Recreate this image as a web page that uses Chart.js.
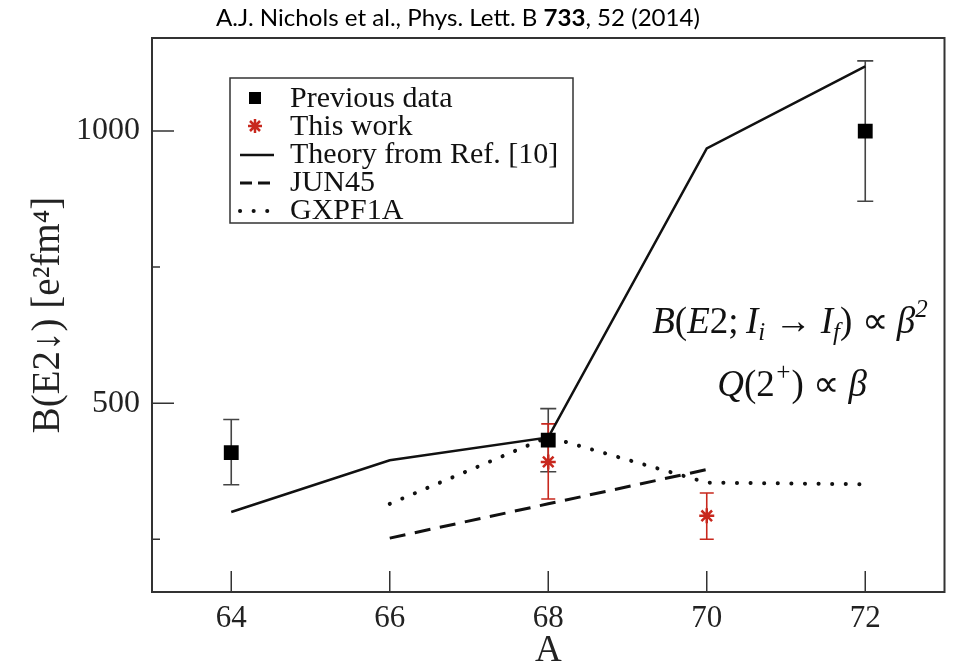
<!DOCTYPE html>
<html>
<head>
<meta charset="utf-8">
<script src="https://cdn.jsdelivr.net/npm/chart.js@4.4.1/dist/chart.umd.min.js"></script>
<style>
  html, body { margin: 0; padding: 0; background: #fff; }
</style>
</head>
<body>
<canvas id="chart" width="955" height="667"></canvas>
<script>
// mass numbers and B(E2) values
const prevA = [64, 68, 72];
const prevB = [409, 432, 1000];
const prevLow = [350, 374, 871];
const prevHigh = [470, 490, 1129];

const thisA = [68, 70];
const thisB = [392, 293];
const thisLow = [324, 250];
const thisHigh = [462, 335];

const theoryA = [64, 66, 68, 70, 72];
const theoryB = [300, 395, 437, 968, 1119];

const jun45A = [66, 68, 70];
const jun45B = [252, 315, 378];

const gxpfA = [66, 68, 70, 72];
const gxpfB = [315, 438, 354, 351];

const xTicks = [64, 66, 68, 70, 72];
const yMajorTicks = [500, 1000];
const yMinorTicks = [250, 750];

const legendLabels = ["Previous data", "This work", "Theory from Ref. [10]", "JUN45", "GXPF1A"];

const RED = "#c8281e";
const INK = "#111";
const SERIF = "'Liberation Serif', 'Times New Roman', serif";

function pts(xs, ys) {
  return xs.map((x, i) => ({ x: x, y: ys[i] }));
}

// error bars, drawn under the markers
const errorBars = {
  id: "errorBars",
  beforeDatasetsDraw(chart) {
    const ctx = chart.ctx;
    const x = chart.scales.x, y = chart.scales.y;
    const sets = [
      { a: prevA, lo: prevLow, hi: prevHigh, color: "#444", cap: 8 },
      { a: thisA, lo: thisLow, hi: thisHigh, color: RED, cap: 7 }
    ];
    ctx.save();
    ctx.lineWidth = 1.6;
    sets.forEach(s => {
      ctx.strokeStyle = s.color;
      s.a.forEach((a, i) => {
        const px = x.getPixelForValue(a);
        const top = y.getPixelForValue(s.hi[i]);
        const bot = y.getPixelForValue(s.lo[i]);
        ctx.beginPath();
        ctx.moveTo(px, top); ctx.lineTo(px, bot);
        ctx.moveTo(px - s.cap, top); ctx.lineTo(px + s.cap, top);
        ctx.moveTo(px - s.cap, bot); ctx.lineTo(px + s.cap, bot);
        ctx.stroke();
      });
    });
    ctx.restore();
  }
};

// frame, inward ticks, legend box, formula and header
const decorations = {
  id: "decorations",
  afterDraw(chart) {
    const ctx = chart.ctx;
    const area = chart.chartArea;
    const x = chart.scales.x, y = chart.scales.y;
    ctx.save();

    // frame
    ctx.strokeStyle = "#333";
    ctx.lineWidth = 2;
    ctx.strokeRect(area.left, area.top, area.right - area.left, area.bottom - area.top);

    // ticks pointing inward
    ctx.lineWidth = 1.5;
    ctx.beginPath();
    xTicks.forEach(v => {
      const px = x.getPixelForValue(v);
      ctx.moveTo(px, area.bottom); ctx.lineTo(px, area.bottom - 21);
    });
    yMajorTicks.forEach(v => {
      const py = y.getPixelForValue(v);
      ctx.moveTo(area.left, py); ctx.lineTo(area.left + 22, py);
    });
    yMinorTicks.forEach(v => {
      const py = y.getPixelForValue(v);
      ctx.moveTo(area.left, py); ctx.lineTo(area.left + 8, py);
    });
    ctx.stroke();

    // legend
    const lx = 230, ly = 78, lw = 343, lh = 145;
    ctx.fillStyle = "#fff";
    ctx.fillRect(lx, ly, lw, lh);
    ctx.strokeStyle = "#333";
    ctx.lineWidth = 1.5;
    ctx.strokeRect(lx, ly, lw, lh);
    const rows = [98, 126, 154, 182, 210];
    ctx.font = "30px " + SERIF;
    ctx.fillStyle = INK;
    ctx.textBaseline = "middle";
    ctx.textAlign = "left";
    legendLabels.forEach((t, i) => ctx.fillText(t, 290, rows[i] + 1));
    // markers
    ctx.fillStyle = "#000";
    ctx.fillRect(249, rows[0] - 6, 12, 12);
    ctx.strokeStyle = RED;
    ctx.lineWidth = 2.5;
    ctx.beginPath();
    ctx.moveTo(248, rows[1]); ctx.lineTo(262, rows[1]);
    ctx.moveTo(255, rows[1] - 7); ctx.lineTo(255, rows[1] + 7);
    ctx.moveTo(250, rows[1] - 5); ctx.lineTo(260, rows[1] + 5);
    ctx.moveTo(260, rows[1] - 5); ctx.lineTo(250, rows[1] + 5);
    ctx.stroke();
    const lineSets = chart.data.datasets.slice(2);
    lineSets.forEach((ds, k) => {
      const ry = rows[2 + k] + 1;
      ctx.strokeStyle = ds.borderColor;
      ctx.lineWidth = ds.borderWidth;
      ctx.lineCap = ds.borderCapStyle || "butt";
      ctx.setLineDash(k === 1 ? [12, 6] : (ds.borderDash || []));
      ctx.beginPath();
      ctx.moveTo(240, ry); ctx.lineTo(274, ry);
      ctx.stroke();
    });
    ctx.setLineDash([]);
    ctx.lineCap = "butt";

    // formula text
    drawRuns(ctx, [
      ["B", "i"], ["(", "n"], ["E", "i"], ["2;", "n"], ["\u2009I", "i"], ["i", "sub"],
      [" \u2192 ", "n"], ["I", "i"], ["f", "sub"], [")", "n"], [" \u221D ", "n"],
      ["\u03B2", "i"], ["2", "sup"]
    ], 790, 333, 37);
    drawRuns(ctx, [
      ["Q", "i"], ["(2", "n"], ["+", "sup"], [")", "n"], [" \u221D ", "n"], ["\u03B2", "i"]
    ], 792, 396, 37);

    // header line
    drawHeader(ctx);
    ctx.restore();
  }
};

function runFont(kind, size) {
  if (kind === "i") return "italic " + size + "px " + SERIF;
  if (kind === "sub" || kind === "sup") return "italic " + Math.round(size * 0.68) + "px " + SERIF;
  return size + "px " + SERIF;
}

function drawRuns(ctx, runs, cx, base, size) {
  let total = 0;
  runs.forEach(r => { ctx.font = runFont(r[1], size); total += ctx.measureText(r[0]).width; });
  let px = cx - total / 2;
  ctx.fillStyle = INK;
  ctx.textAlign = "left";
  ctx.textBaseline = "alphabetic";
  runs.forEach(r => {
    ctx.font = runFont(r[1], size);
    let dy = 0;
    if (r[1] === "sub") dy = size * 0.2;
    if (r[1] === "sup") dy = -size * 0.42;
    ctx.fillText(r[0], px, base + dy);
    px += ctx.measureText(r[0]).width;
  });
}

function drawHeader(ctx) {
  const parts = [
    ["A.J. Nichols et al., Phys. Lett. B ", ""],
    ["733", "bold "],
    [", 52 (2014)", ""]
  ];
  const size = 23;
  const fam = "Lato, 'Open Sans', sans-serif";
  let w = 0;
  parts.forEach(p => { ctx.font = p[1] + size + "px " + fam; w += ctx.measureText(p[0]).width; });
  const target = 484;
  const sx = target / w;
  ctx.save();
  ctx.translate(216, 26);
  ctx.scale(sx, 1);
  ctx.fillStyle = "#000";
  ctx.textAlign = "left";
  ctx.textBaseline = "alphabetic";
  let px = 0;
  parts.forEach(p => {
    ctx.font = p[1] + size + "px " + fam;
    ctx.fillText(p[0], px, 0);
    px += ctx.measureText(p[0]).width;
  });
  ctx.restore();
}

new Chart(document.getElementById("chart"), {
  type: "scatter",
  data: {
    datasets: [
      {
        label: legendLabels[0],
        data: pts(prevA, prevB),
        pointStyle: "rect",
        pointRadius: 10.5,
        backgroundColor: "#000",
        borderWidth: 0,
        showLine: false
      },
      {
        label: legendLabels[1],
        data: pts(thisA, thisB),
        pointStyle: "star",
        pointRadius: 7.5,
        borderColor: RED,
        borderWidth: 2.5,
        showLine: false
      },
      {
        label: legendLabels[2],
        data: pts(theoryA, theoryB),
        showLine: true,
        borderColor: INK,
        borderWidth: 2.5,
        pointRadius: 0
      },
      {
        label: legendLabels[3],
        data: pts(jun45A, jun45B),
        showLine: true,
        borderColor: INK,
        borderWidth: 3,
        borderDash: [16, 9.6],
        pointRadius: 0
      },
      {
        label: legendLabels[4],
        data: pts(gxpfA, gxpfB),
        showLine: true,
        borderColor: INK,
        borderWidth: 4,
        borderDash: [0.1, 13.5],
        borderCapStyle: "round",
        pointRadius: 0
      }
    ]
  },
  options: {
    responsive: false,
    animation: false,
    layout: { padding: { top: 38, right: 10, left: 25, bottom: 0 } },
    plugins: {
      legend: { display: false },
      tooltip: { enabled: false },
      title: { display: false }
    },
    scales: {
      x: {
        type: "linear",
        min: 63,
        max: 73,
        afterBuildTicks: s => { s.ticks = xTicks.map(v => ({ value: v })); },
        afterFit: s => { s.height = 75; },
        grid: { display: false, drawTicks: false },
        border: { display: false },
        ticks: {
          padding: 8,
          color: "#222",
          font: { family: SERIF, size: 31 }
        },
        title: {
          display: true,
          text: "A",
          color: "#222",
          font: { family: SERIF, size: 37, lineHeight: 0.84 },
          padding: { top: 0, bottom: 0 }
        }
      },
      y: {
        type: "linear",
        min: 153,
        max: 1171,
        afterBuildTicks: s => { s.ticks = yMinorTicks.concat(yMajorTicks).sort((a, b) => a - b).map(v => ({ value: v })); },
        afterFit: s => { s.width = 127; },
        grid: { display: false, drawTicks: false },
        border: { display: false },
        ticks: {
          padding: 12,
          color: "#222",
          font: { family: SERIF, size: 32 },
          callback: v => (yMajorTicks.includes(v) ? String(v) : "")
        },
        title: {
          display: true,
          text: "B(E2\u2193) [e\u00B2fm\u2074]",
          color: "#222",
          font: { family: SERIF, size: 39 },
          padding: { top: 0, bottom: 0 }
        }
      }
    }
  },
  plugins: [errorBars, decorations]
});
</script>
</body>
</html>
